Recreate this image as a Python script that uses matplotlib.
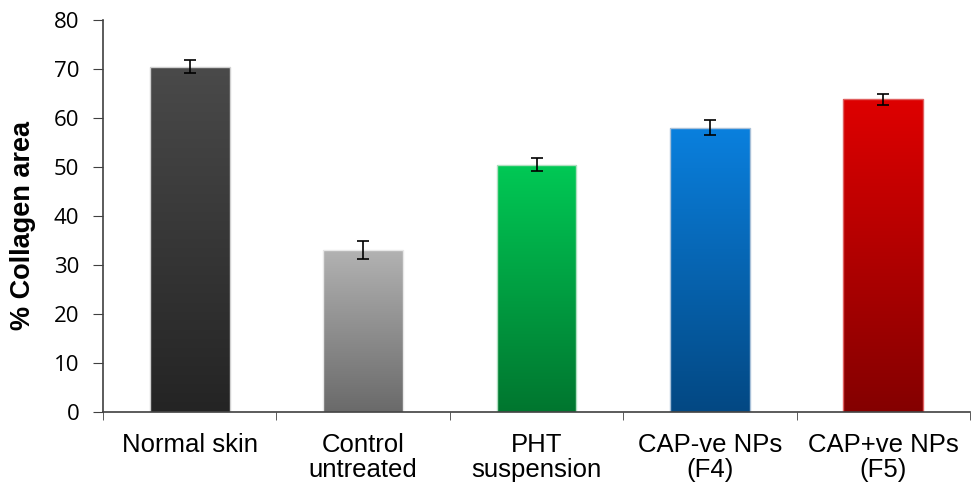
import matplotlib
matplotlib.use("Agg")
import matplotlib.pyplot as plt
import numpy as np
from matplotlib.colors import LinearSegmentedColormap

plt.rcParams['font.family'] = ['Liberation Sans', 'DejaVu Sans']

categories = ["Normal skin", "Control\nuntreated", "PHT\nsuspension", "CAP-ve NPs\n(F4)", "CAP+ve NPs\n(F5)"]
values = [70.5, 33.0, 50.5, 58.0, 63.8]
errors = [1.4, 1.8, 1.3, 1.5, 1.1]
top_colors = ["#4a4a4a", "#b2b2b2", "#00c955", "#0a80de", "#de0000"]
bottom_colors = ["#242424", "#6a6a6a", "#00762f", "#034883", "#840000"]
edge_colors = ["#d0d0d0", "#e8e8e8", "#b0e0c0", "#a8c0d8", "#e06060"]

fig = plt.figure(figsize=(9.73, 4.88), dpi=100)
ax = fig.add_axes([103/973, 76/488, 867/973, 392/488])

x = np.arange(len(categories))
bars = ax.bar(x, values, width=0.46, color="none", edgecolor=edge_colors, linewidth=1, zorder=2)

# gradient fill clipped to each bar
grad = np.linspace(0, 1, 256).reshape(-1, 1)
for b, c1, c2 in zip(bars, top_colors, bottom_colors):
    cmap = LinearSegmentedColormap.from_list("g", [c2, c1])
    bx, by = b.get_x(), b.get_y()
    w, h = b.get_width(), b.get_height()
    im = ax.imshow(grad, cmap=cmap, origin="lower", extent=[bx, bx + w, by, by + h],
                   aspect="auto", zorder=1)
    im.set_clip_path(b)

ax.errorbar(x, values, yerr=errors, fmt="none", ecolor="black", elinewidth=1.2,
            capsize=4.5, capthick=1.2, zorder=3)

ax.set_xlim(-0.5, len(categories) - 0.5)
ax.set_ylim(0, 80)
ax.set_yticks(range(0, 81, 10))
ax.set_yticklabels([str(v) for v in range(0, 81, 10)], family="Open Sans", fontsize=16)
ax.set_xticks(x)
ax.set_xticklabels(categories, fontsize=18.5, linespacing=1.05)
ax.set_xticks(np.arange(-0.5, len(categories)), minor=True)
ax.tick_params(axis="x", which="major", length=0, pad=15)
ax.tick_params(axis="x", which="minor", length=6, color="#404040", direction="out")
ax.tick_params(axis="y", length=7, pad=10, color="#404040", direction="out")
ax.set_ylabel("% Collagen area", fontsize=19.5, fontweight="bold")
ax.yaxis.set_label_coords(-0.077, 0.477)

for s in ["top", "right"]:
    ax.spines[s].set_visible(False)
for s in ["left", "bottom"]:
    ax.spines[s].set_color("#404040")
    ax.spines[s].set_linewidth(1.2)

fig.savefig("out.png", dpi=100)
